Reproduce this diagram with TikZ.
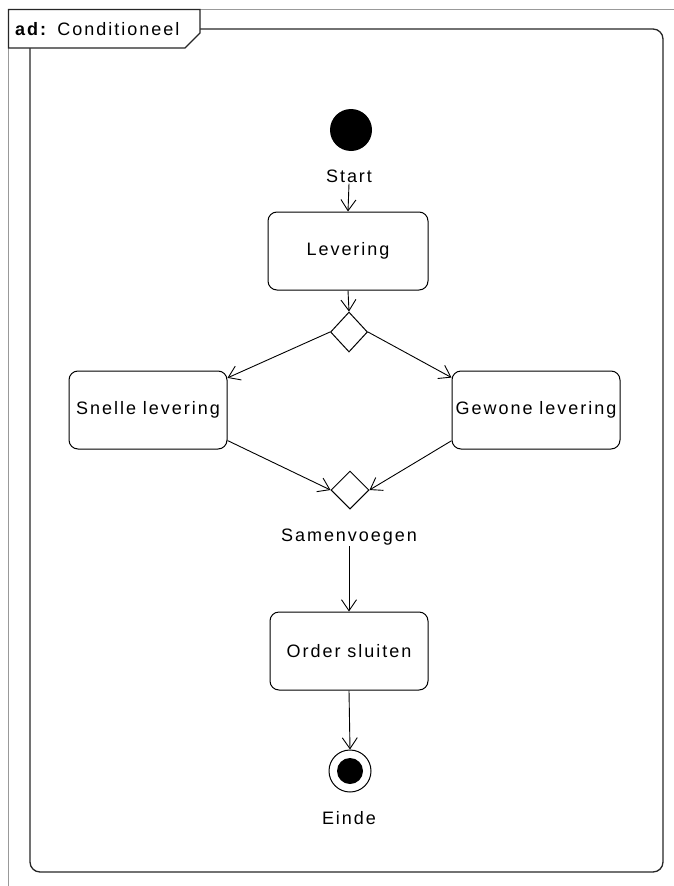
\documentclass[tikz,border=0pt]{standalone}
\usepackage{fontspec}
\setmainfont{Liberation Sans}
\newfontfamily\umlfont{Liberation Sans}[LetterSpace=11]
\usetikzlibrary{arrows.meta,shapes.geometric}

\begin{document}
\begin{tikzpicture}[x=1pt,y=-1pt,
  txt/.style={font=\umlfont\fontsize{18}{21}\selectfont, inner sep=1pt},
  action/.style={draw, line width=1pt, rounded corners=9pt, fill=white,
    minimum height=78pt, inner sep=0pt, txt},
  branch/.style={draw, line width=1pt, shape=diamond, inner sep=0pt, aspect=1},
  flow/.style={draw, line width=0.9pt,
    -{Straight Barb[length=11pt,width=15pt,line width=0.9pt]}},
  frameline/.style={draw=black!40, line width=1.2pt},
]
\useasboundingbox (0,0) rectangle (674,886);

% outer diagram frame
\draw[frameline] (8.5,886) -- (8.5,9.5) -- (674,9.5);

% inner rounded frame
\draw[line width=1.3pt, draw=black!85, rounded corners=10pt]
  (30,29) rectangle (663,872);

% frame heading tab
\draw[fill=white, line width=1.2pt, draw=black!85]
  (8.5,9.5) -- (200,9.5) -- (200,33) -- (185,48) -- (8.5,48) -- cycle;
\node[txt, anchor=west] (title) at (14,29)
  {\textbf{ad:} Conditioneel};

% initial node
\node[circle, fill=black, minimum size=42pt, inner sep=0pt] (start) at (351,130) {};
\node[txt] (startlbl) at (349,176) {Start};

% actions
\node[action, minimum width=160pt] (lev) at (348,251) {Levering};
\node[action, minimum width=158pt] (snelle) at (148,410) {Snelle levering};
\node[action, minimum width=168pt] (gewone) at (536,410) {Gewone levering};
\node[action, minimum width=158pt] (close) at (349,651) {Order sluiten};

% decision and merge
\node[branch, minimum width=37pt, minimum height=40pt] (dec) at (349,332) {};
\node[branch, minimum width=38pt, minimum height=38pt] (merge) at (350,490) {};
\node[txt] (samlbl) at (349,537) {Samenvoegen};

% final node
\node[circle, draw, line width=1pt, minimum size=42pt, inner sep=0pt] (final) at (350,771) {};
\node[circle, fill=black, minimum size=26pt, inner sep=0pt] (finaldot) at (final.center) {};
\node[txt] (eindelbl) at (349,818) {Einde};

% control flows
\draw[flow] (startlbl.south) -- (lev.north);
\draw[flow] (lev.south) -- (dec.north);
\draw[flow] (dec.west) -- (snelle.22);
\draw[flow] (dec.east) -- (gewone.159);
\draw[flow] (snelle.-21) -- (merge.west);
\draw[flow] (gewone.200) -- (merge.east);
\draw[flow] (samlbl.south) -- (close.north);
\draw[flow] (close.south) -- (final.north);
\end{tikzpicture}
\end{document}
